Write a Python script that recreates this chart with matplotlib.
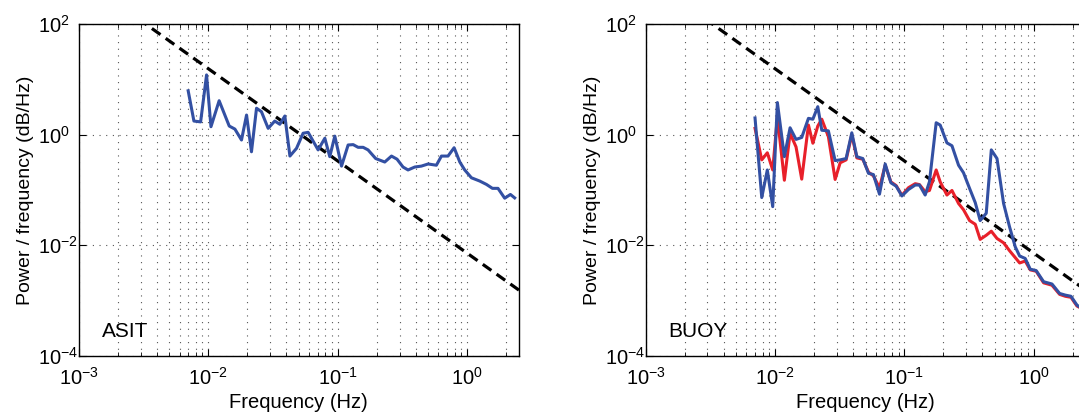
import numpy as np
import matplotlib
matplotlib.use('Agg')
import matplotlib.pyplot as plt
from matplotlib.ticker import LogLocator, NullLocator, NullFormatter

plt.rcParams['font.family'] = ['Liberation Sans', 'DejaVu Sans']
plt.rcParams['mathtext.fontset'] = 'custom'
plt.rcParams['mathtext.rm'] = 'Liberation Sans'
plt.rcParams['mathtext.it'] = 'Liberation Sans:italic'
plt.rcParams['mathtext.bf'] = 'Liberation Sans:bold'

# ASIT spectrum
asit_f = [0.00698, 0.00773, 0.00871, 0.00968, 0.01047, 0.01211, 0.01449, 0.01603,
          0.01803, 0.01972, 0.02153, 0.02355, 0.0257, 0.02897, 0.03258, 0.03565,
          0.03899, 0.04266, 0.04797, 0.05395, 0.05902, 0.07047, 0.07943, 0.0867,
          0.09484, 0.1069, 0.1202, 0.1315, 0.1435, 0.157, 0.1714, 0.1963, 0.2307,
          0.26, 0.2871, 0.3192, 0.3491, 0.3936, 0.4426, 0.4989, 0.5781, 0.6324,
          0.7112, 0.7925, 0.877, 0.9572, 1.079, 1.25, 1.409, 1.567, 1.73, 1.95,
          2.158, 2.328]
asit_p = [6.2, 1.76, 1.7, 12.0, 1.39, 4.1, 1.43, 1.26, 0.80, 2.26, 0.49, 3.0, 2.6,
          1.3, 1.76, 1.54, 2.17, 0.41, 0.565, 1.06, 1.1, 0.53, 0.86, 0.40, 0.94,
          0.27, 0.65, 0.66, 0.59, 0.59, 0.53, 0.37, 0.32, 0.41, 0.36, 0.26, 0.23,
          0.26, 0.27, 0.295, 0.28, 0.41, 0.41, 0.58, 0.32, 0.23, 0.166, 0.145,
          0.126, 0.107, 0.107, 0.071, 0.083, 0.072]

# BUOY spectra (blue and red)
buoy_f = [0.0070, 0.00789, 0.00871, 0.00959, 0.01042, 0.0118, 0.01306, 0.01452,
          0.01607, 0.01811, 0.01959, 0.02138, 0.02296, 0.02582, 0.02911, 0.03184,
          0.0354, 0.03917, 0.04285, 0.04764, 0.05272, 0.05754, 0.06412, 0.07096,
          0.07852, 0.0863, 0.0955, 0.1074, 0.1211, 0.1306, 0.1445, 0.156, 0.1758,
          0.1888, 0.2128, 0.2328, 0.2618, 0.2858, 0.3184, 0.3524, 0.3846, 0.4285,
          0.4688, 0.5188, 0.5834, 0.6486, 0.7178, 0.7762, 0.857, 0.9376, 1.042,
          1.189, 1.38, 1.581, 1.75, 1.936, 2.153, 2.244]
buoy_blue = [2.0, 0.073, 0.23, 0.050, 3.8, 0.40, 1.33, 0.82, 0.89, 1.97, 1.9, 3.2,
             1.2, 1.17, 0.34, 0.35, 0.37, 1.08, 0.40, 0.37, 0.20, 0.19, 0.084,
             0.295, 0.135, 0.117, 0.078, 0.102, 0.123, 0.123, 0.081, 0.141, 1.64,
             1.49, 0.71, 0.63, 0.28, 0.205, 0.107, 0.059, 0.028, 0.038, 0.53, 0.37,
             0.057, 0.0216, 0.0094, 0.0064, 0.0058, 0.0037, 0.0035, 0.0022, 0.0020,
             0.00135, 0.00126, 0.0012, 0.00083, 0.00078]
buoy_red = [1.3, 0.35, 0.47, 0.23, 2.1, 0.15, 1.06, 0.60, 0.157, 1.49, 0.70, 1.43,
            1.9, 0.92, 0.155, 0.31, 0.35, 1.0, 0.38, 0.36, 0.21, 0.18, 0.11, 0.28,
            0.14, 0.12, 0.08, 0.11, 0.13, 0.125, 0.093, 0.098, 0.23, 0.14, 0.081,
            0.098, 0.057, 0.044, 0.028, 0.024, 0.0128, 0.0152, 0.018, 0.0133,
            0.0111, 0.0080, 0.0060, 0.0048, 0.0052, 0.0036, 0.0034, 0.0021, 0.0019,
            0.0013, 0.0012, 0.00115, 0.0008, 0.00076]

# -5/3 reference slope
ref_f = np.array([0.001, 3.0])
ref_p = 7.2e-3 * ref_f ** (-5.0 / 3.0)

blue = '#3350a3'
red = '#e8202a'
grid_style = dict(color='#555555', linestyle=(0, (1, 5)), linewidth=0.8)

fig = plt.figure(figsize=(10.79, 4.13), dpi=100)
ax1 = fig.add_axes([0.0732, 0.138, 0.4075, 0.804])
ax2 = fig.add_axes([0.5984, 0.138, 0.4075, 0.804])


def style_axes(ax, label):
    ax.set_xscale('log')
    ax.set_yscale('log')
    ax.set_xlim(1e-3, 2.5)
    ax.set_ylim(1e-4, 1e2)
    ax.xaxis.set_major_locator(LogLocator(base=10, numticks=10))
    ax.xaxis.set_minor_locator(LogLocator(base=10, subs=np.arange(2, 10), numticks=20))
    ax.xaxis.set_minor_formatter(NullFormatter())
    ax.set_yticks([1e-4, 1e-2, 1e0, 1e2])
    ax.yaxis.set_minor_locator(NullLocator())
    ax.grid(True, which='major', **grid_style)
    ax.grid(True, which='minor', axis='x', **grid_style)
    ax.set_axisbelow(True)
    ax.tick_params(which='both', direction='in', top=True, right=True,
                   labelsize=14.5)
    ax.tick_params(axis='x', pad=8)
    ax.tick_params(axis='y', pad=29.5)
    for t in ax.get_yticklabels():
        t.set_horizontalalignment('left')
    ax.tick_params(which='major', length=5, width=0.8)
    ax.tick_params(which='minor', length=3, width=0.6)
    for s in ax.spines.values():
        s.set_linewidth(1.0)
    ax.set_xlabel('Frequency (Hz)', fontsize=14.5, labelpad=3)
    ax.set_ylabel('Power / frequency (dB/Hz)', fontsize=14, labelpad=3)
    ax.text(0.052, 0.057, label, transform=ax.transAxes, fontsize=15)


style_axes(ax1, 'ASIT')
ax1.plot(ref_f, ref_p, color='black', linestyle='--', dashes=(3.3, 2.0), lw=2.3)
ax1.plot(asit_f, asit_p, color=blue, lw=2.2)

style_axes(ax2, 'BUOY')
ax2.plot(ref_f, ref_p, color='black', linestyle='--', dashes=(3.3, 2.0), lw=2.3)
ax2.plot(buoy_f, buoy_red, color=red, lw=2.2)
ax2.plot(buoy_f, buoy_blue, color=blue, lw=2.2)

fig.savefig('out.png', dpi=100)
